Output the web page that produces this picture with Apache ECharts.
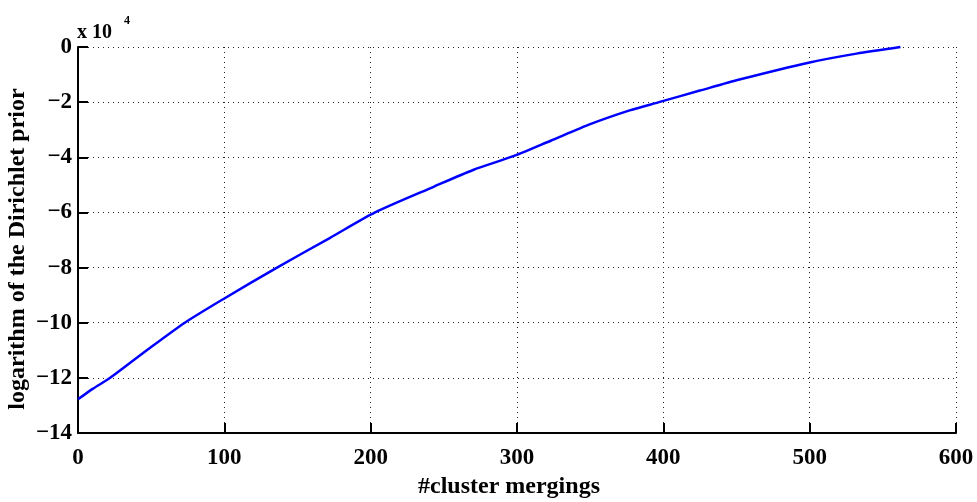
<!DOCTYPE html>
<html>
<head>
<meta charset="utf-8">
<script src="https://cdn.jsdelivr.net/npm/echarts@6/dist/echarts.min.js"></script>
<style>
  html, body { margin: 0; padding: 0; background: #fff; }
  #chart { width: 977px; height: 502px; }
</style>
</head>
<body>
<div id="chart"></div>
<script>
// Number of cluster mergings performed
const mergings = [0, 10, 22, 47, 73, 100, 136, 172, 203, 243, 270, 298, 323, 350, 377, 397, 425, 452, 500, 532, 562];
// Logarithm of the Dirichlet prior after each merging
const logPrior = [-127800, -124000, -120000, -110000, -100000, -91200, -80000, -69300, -60000, -50700, -44600, -39500, -34000, -28000, -23000, -20000, -15800, -11800, -5600, -2400, 0];
// Axis tick values
const xTicks = [0, 100, 200, 300, 400, 500, 600];
const yTicks = [-140000, -120000, -100000, -80000, -60000, -40000, -20000, 0];
const yScale = 10000;

const font = 'Liberation Serif, Times New Roman, serif';
const chart = echarts.init(document.getElementById('chart'), null, { renderer: 'canvas' });

const dotted = { color: '#222', width: 1, type: [1, 4] };

chart.setOption({
  animation: false,
  backgroundColor: '#fff',
  grid: { left: 78, top: 47, right: 21, bottom: 69, containLabel: false, outerBoundsMode: 'none' },
  xAxis: {
    type: 'value',
    min: xTicks[0],
    max: xTicks[xTicks.length - 1],
    interval: 100,
    name: '#cluster mergings',
    nameLocation: 'middle',
    nameGap: 42,
    nameMoveOverlap: false,
    nameTextStyle: { fontFamily: font, fontWeight: 'bold', fontSize: 24, color: '#000', padding: [0, 16, 0, 0] },
    axisLine: { show: true, onZero: false, lineStyle: { color: '#000', width: 2 } },
    axisTick: { show: true, inside: true, length: 10, lineStyle: { color: '#000', width: 2 } },
    axisLabel: { fontFamily: font, fontWeight: 'bold', fontSize: 23, color: '#000', margin: 14 },
    splitLine: { show: true, lineStyle: dotted }
  },
  yAxis: {
    type: 'value',
    min: yTicks[0],
    max: yTicks[yTicks.length - 1],
    interval: 20000,
    name: 'logarithm of the Dirichlet prior',
    nameLocation: 'middle',
    nameRotate: 90,
    nameGap: 48,
    nameMoveOverlap: false,
    nameTextStyle: { fontFamily: font, fontWeight: 'bold', fontSize: 24, color: '#000', padding: [0, 18, 0, 0] },
    axisLine: { show: true, onZero: false, lineStyle: { color: '#000', width: 2 } },
    axisTick: { show: true, inside: true, length: 10, lineStyle: { color: '#000', width: 2 } },
    axisLabel: {
      fontFamily: font, fontWeight: 'bold', fontSize: 23, color: '#000', margin: 6,
      formatter: v => String(Math.round(v / yScale)).replace('-', '\u2212')
    },
    splitLine: { show: true, lineStyle: dotted }
  },
  graphic: [
    {
      type: 'text', left: 77, top: 23,
      style: { text: 'x 10', fontFamily: font, fontWeight: 'bold', fontSize: 20, fill: '#000' }
    },
    {
      type: 'text', left: 124, top: 15,
      style: { text: '4', fontFamily: font, fontWeight: 'bold', fontSize: 12, fill: '#000' }
    }
  ],
  series: [{
    type: 'line',
    data: mergings.map((m, i) => [m, logPrior[i]]),
    showSymbol: false,
    smooth: 0.25,
    lineStyle: { color: '#0000ff', width: 2.5 },
    itemStyle: { color: '#0000ff' },
    clip: false
  }]
});
</script>
</body>
</html>
